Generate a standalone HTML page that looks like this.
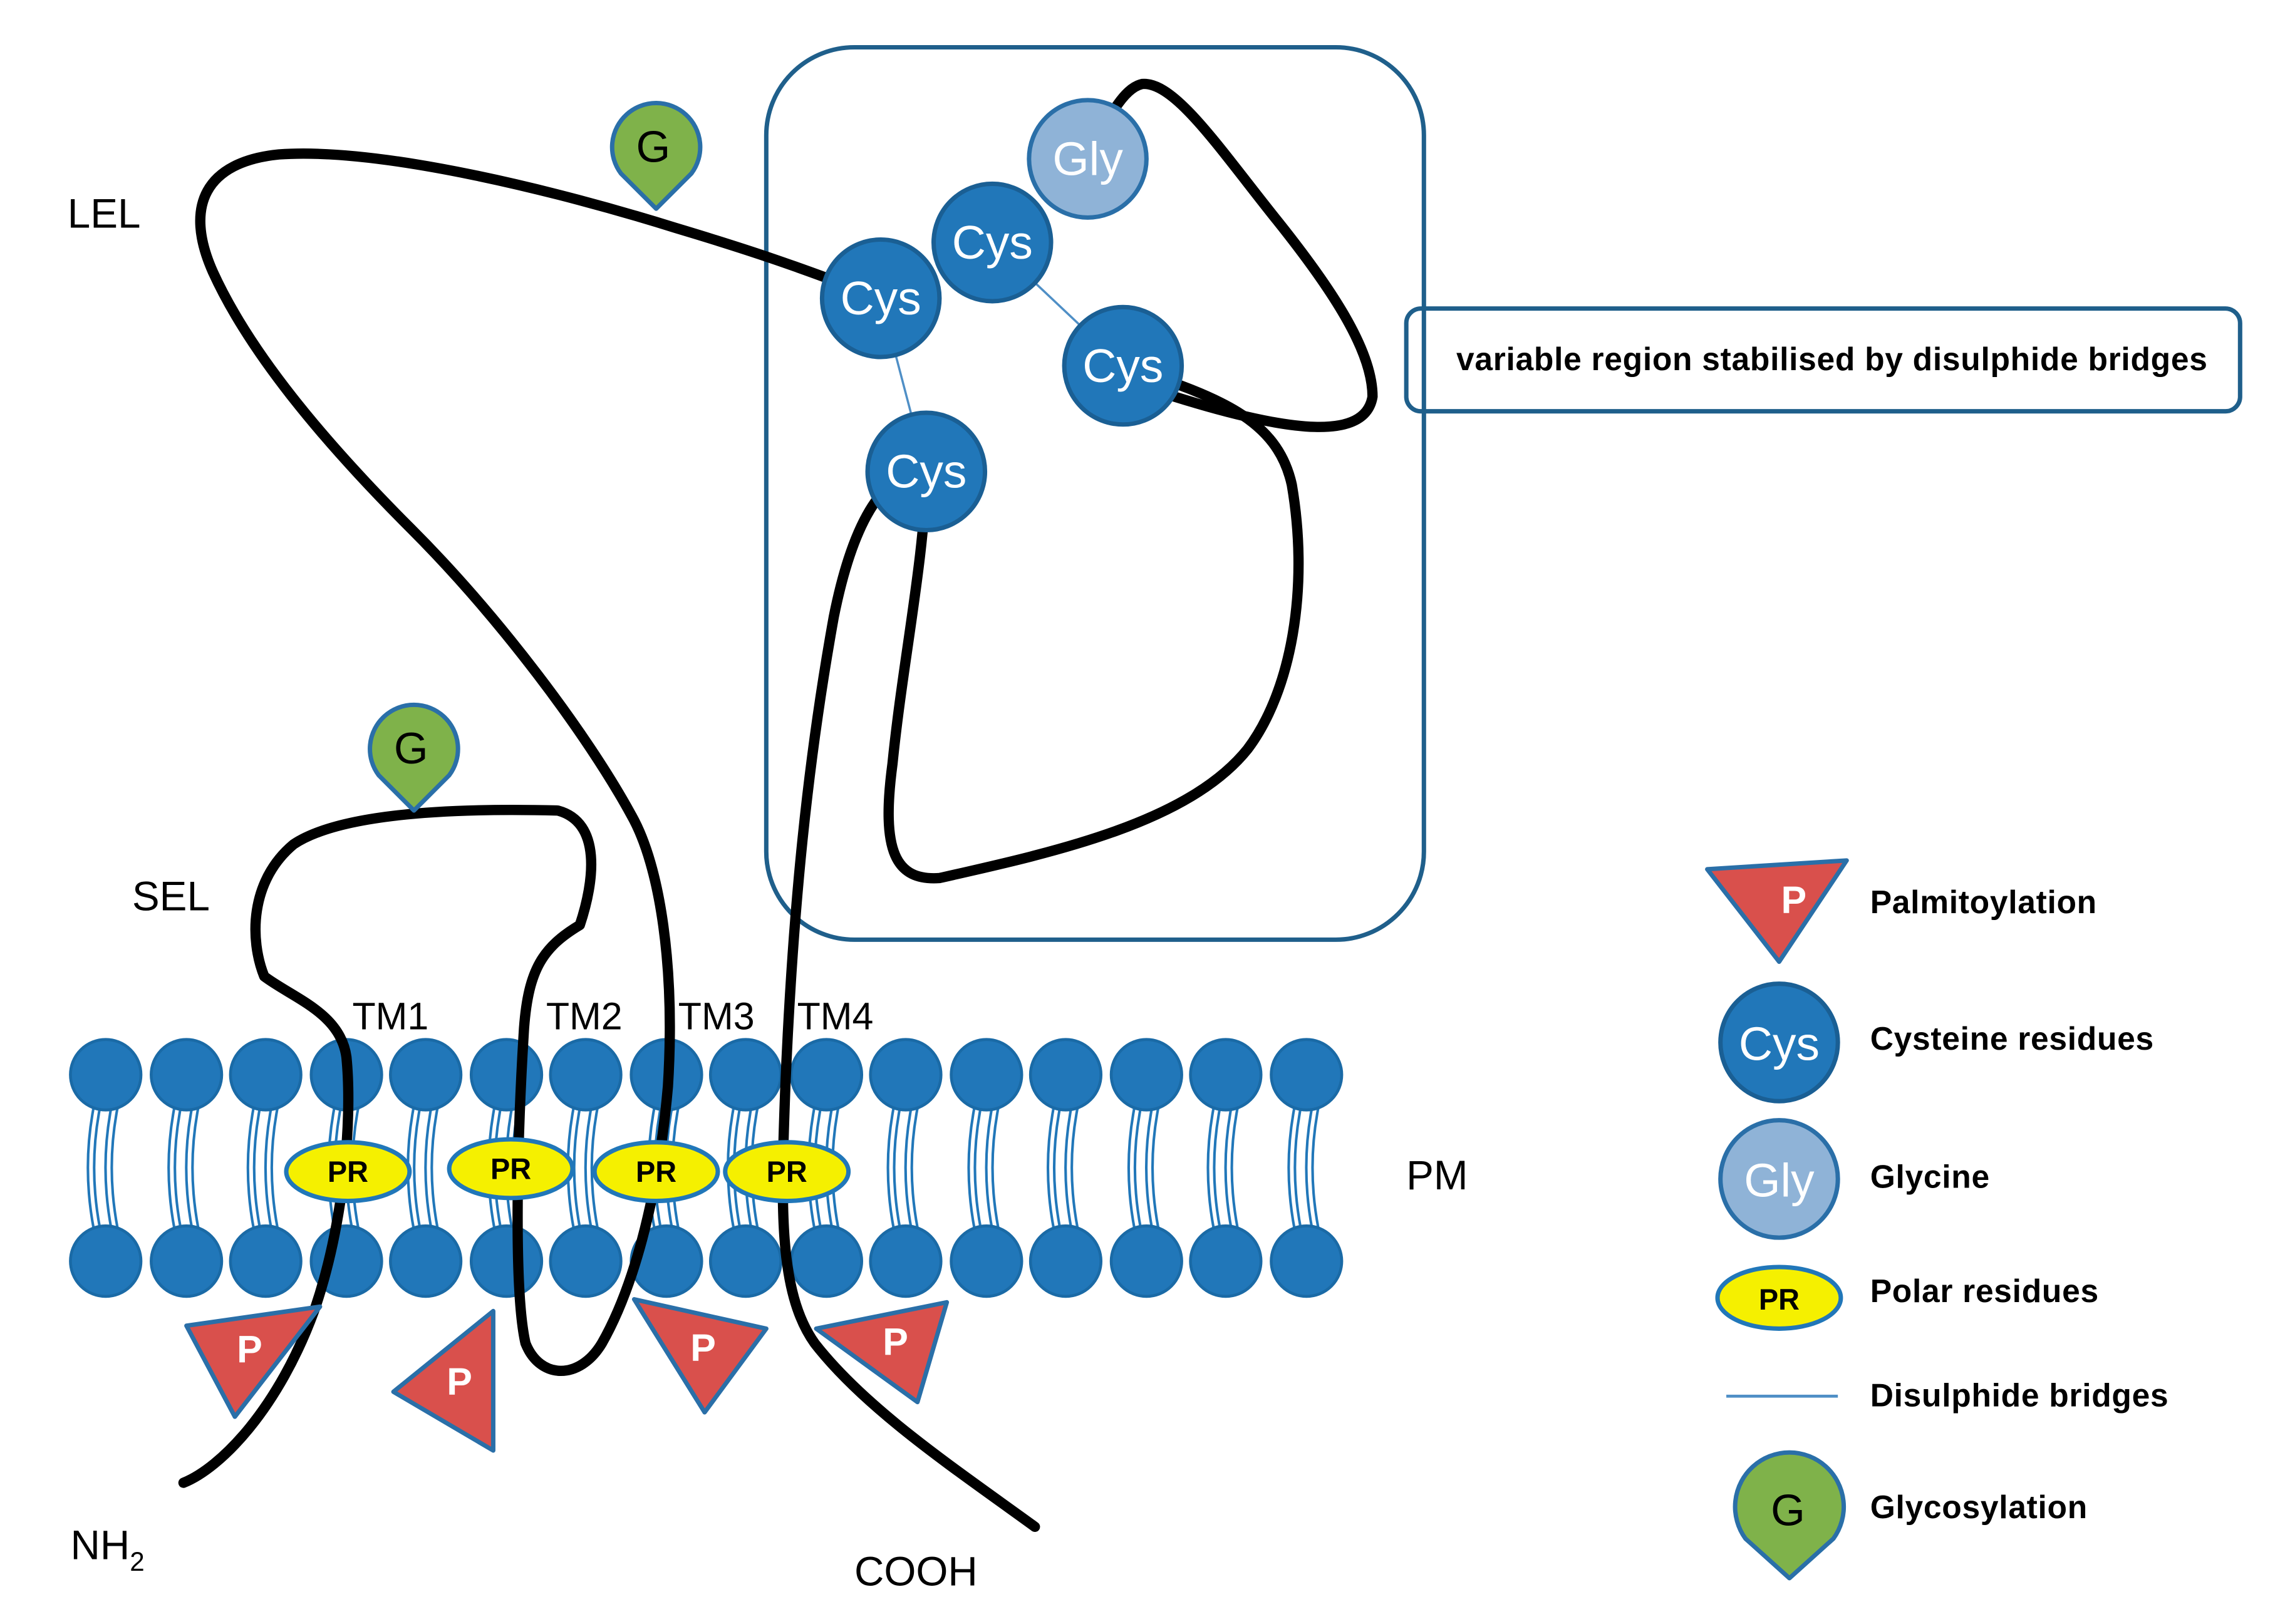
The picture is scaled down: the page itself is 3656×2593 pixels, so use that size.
<!DOCTYPE html>
<html><head><meta charset="utf-8">
<style>
html,body{margin:0;padding:0;background:#fff;}
svg{display:block;}
text{font-family:"Liberation Sans",sans-serif;}
</style></head>
<body>
<svg width="3656" height="2593" viewBox="0 0 1560 1106" xmlns="http://www.w3.org/2000/svg">
<defs>
<g id="lip">
  <path d="M-6,22 Q-14,63 -6,105" fill="none" stroke="#2177b9" stroke-width="6"/>
  <path d="M-6,22 Q-14,63 -6,105" fill="none" stroke="#fff" stroke-width="2.5"/>
  <path d="M6,22 Q-2,63 6,105" fill="none" stroke="#2177b9" stroke-width="6"/>
  <path d="M6,22 Q-2,63 6,105" fill="none" stroke="#fff" stroke-width="2.5"/>
  <circle cx="0" cy="0" r="24" fill="#2177b9" stroke="#1a6aa6" stroke-width="2"/>
  <circle cx="0" cy="127" r="24" fill="#2177b9" stroke="#1a6aa6" stroke-width="2"/>
</g>
</defs>
<g transform="translate(0,732)">
<use href="#lip" x="72"/><use href="#lip" x="127"/><use href="#lip" x="181"/><use href="#lip" x="236"/>
<use href="#lip" x="290"/><use href="#lip" x="345"/><use href="#lip" x="399"/><use href="#lip" x="454"/>
<use href="#lip" x="508"/><use href="#lip" x="563"/><use href="#lip" x="617"/><use href="#lip" x="672"/>
<use href="#lip" x="726"/><use href="#lip" x="781"/><use href="#lip" x="835"/><use href="#lip" x="890"/>
</g>
<rect x="522" y="32" width="448" height="608" rx="60" fill="none" stroke="#1f5f8b" stroke-width="3"/>
<rect x="958" y="210" width="568" height="70" rx="10" fill="none" stroke="#1f5f8b" stroke-width="3"/>
<text x="1248" y="252" font-size="22" font-weight="bold" text-anchor="middle" letter-spacing="0.3">variable region stabilised by disulphide bridges</text>
<g fill="none" stroke="#000" stroke-width="7" stroke-linecap="round" stroke-linejoin="round">
<path d="M125,1010 C150,1000 190,960 215,890 C235,830 240,760 236,720 C232,690 200,680 180,665 C170,640 170,600 200,575 C230,555 300,550 380,552 C410,560 405,600 395,630 C370,645 360,660 357,700 C352,780 350,880 358,915 C368,940 395,940 410,915 C430,880 448,820 455,740 C460,660 450,590 430,555 C400,500 340,420 280,360 C220,300 170,240 145,185 C125,140 140,110 190,105 C260,100 380,130 460,155 C510,170 540,180 600,203"/>
<path d="M741,108 C755,80 765,60 778,57 C800,55 830,100 870,150 C910,200 935,240 935,270 C930,300 880,295 800,270 L765,249"/>
<path d="M765,249 C830,270 870,285 880,330 C892,400 880,470 850,510 C810,560 720,580 640,598 C610,600 600,580 608,520 C615,450 630,380 631,321"/>
<path d="M631,321 C600,320 580,360 568,420 C550,520 540,620 535,740 C532,820 530,880 555,915 C590,960 650,1000 705,1040"/>
</g>
<line x1="600" y1="203" x2="631" y2="321" stroke="#4f8fc6" stroke-width="1.5"/>
<line x1="676" y1="165" x2="765" y2="249" stroke="#4f8fc6" stroke-width="1.5"/>
<g font-size="32" fill="#fff" text-anchor="middle">
<circle cx="741" cy="108" r="40" fill="#8fb3d7" stroke="#2a6fa8" stroke-width="3"/><text x="741" y="119" fill="#fff">Gly</text>
<circle cx="676" cy="165" r="40" fill="#2177b9" stroke="#1a5f94" stroke-width="3"/><text x="676" y="176">Cys</text>
<circle cx="600" cy="203" r="40" fill="#2177b9" stroke="#1a5f94" stroke-width="3"/><text x="600" y="214">Cys</text>
<circle cx="765" cy="249" r="40" fill="#2177b9" stroke="#1a5f94" stroke-width="3"/><text x="765" y="260">Cys</text>
<circle cx="631" cy="321" r="40" fill="#2177b9" stroke="#1a5f94" stroke-width="3"/><text x="631" y="332">Cys</text>
</g>
<g font-size="20" font-weight="bold" text-anchor="middle">
<ellipse cx="237" cy="798" rx="42" ry="20" fill="#f5f000" stroke="#2177b9" stroke-width="3"/><text x="237" y="805">PR</text>
<ellipse cx="348" cy="796" rx="42" ry="20" fill="#f5f000" stroke="#2177b9" stroke-width="3"/><text x="348" y="803">PR</text>
<ellipse cx="447" cy="798" rx="42" ry="20" fill="#f5f000" stroke="#2177b9" stroke-width="3"/><text x="447" y="805">PR</text>
<ellipse cx="536" cy="798" rx="42" ry="20" fill="#f5f000" stroke="#2177b9" stroke-width="3"/><text x="536" y="805">PR</text>
</g>
<g font-size="26" font-weight="bold" fill="#fff" text-anchor="middle">
<polygon points="127,903 218,890 160,965" fill="#d9504c" stroke="#2a6fa8" stroke-width="3" stroke-linejoin="round"/><text x="170" y="928">P</text>
<polygon points="336,893 268,948 336,988" fill="#d9504c" stroke="#2a6fa8" stroke-width="3" stroke-linejoin="round"/><text x="313" y="950">P</text>
<polygon points="432,885 522,905 480,962" fill="#d9504c" stroke="#2a6fa8" stroke-width="3" stroke-linejoin="round"/><text x="479" y="927">P</text>
<polygon points="556,905 645,887 625,955" fill="#d9504c" stroke="#2a6fa8" stroke-width="3" stroke-linejoin="round"/><text x="610" y="923">P</text>
<polygon points="1163,592 1258,586 1212,655" fill="#d9504c" stroke="#2a6fa8" stroke-width="3" stroke-linejoin="round"/><text x="1222" y="622">P</text>
</g>
<g font-size="30" text-anchor="middle">
<path d="M447,142 L423,118 A30,30 0 1,1 471,118 Z" fill="#7fb24a" stroke="#2a6fa8" stroke-width="3" stroke-linejoin="round"/><text x="445" y="110">G</text>
<path d="M282,552 L258,528 A30,30 0 1,1 306,528 Z" fill="#7fb24a" stroke="#2a6fa8" stroke-width="3" stroke-linejoin="round"/><text x="280" y="520">G</text>
<path d="M1219,1075 L1189,1048 A37,37 0 1,1 1249,1048 Z" fill="#7fb24a" stroke="#2a6fa8" stroke-width="3" stroke-linejoin="round"/><text x="1218" y="1039">G</text>
</g>
<circle cx="1212" cy="710" r="40" fill="#2177b9" stroke="#1a5f94" stroke-width="3"/><text x="1212" y="722" font-size="32" fill="#fff" text-anchor="middle">Cys</text>
<circle cx="1212" cy="803" r="40" fill="#8fb3d7" stroke="#2a6fa8" stroke-width="3"/><text x="1212" y="815" font-size="32" fill="#fff" text-anchor="middle">Gly</text>
<ellipse cx="1212" cy="884" rx="42" ry="21" fill="#f5f000" stroke="#2177b9" stroke-width="3"/><text x="1212" y="892" font-size="20" font-weight="bold" text-anchor="middle">PR</text>
<line x1="1176" y1="951" x2="1252" y2="951" stroke="#4f8fc6" stroke-width="2"/>
<g font-size="22" font-weight="bold" letter-spacing="0.3">
<text x="1274" y="622">Palmitoylation</text>
<text x="1274" y="715">Cysteine residues</text>
<text x="1274" y="809">Glycine</text>
<text x="1274" y="887">Polar residues</text>
<text x="1274" y="958">Disulphide bridges</text>
<text x="1274" y="1034">Glycosylation</text>
</g>
<g font-size="28">
<text x="46" y="155">LEL</text>
<text x="90" y="620">SEL</text>
<text x="240" y="701" font-size="26">TM1</text>
<text x="372" y="701" font-size="26">TM2</text>
<text x="462" y="701" font-size="26">TM3</text>
<text x="543" y="701" font-size="26">TM4</text>
<text x="958" y="810">PM</text>
<text x="48" y="1062">NH<tspan font-size="18" dy="8">2</tspan></text>
<text x="582" y="1080">COOH</text>
</g>
</svg>
</body></html>
